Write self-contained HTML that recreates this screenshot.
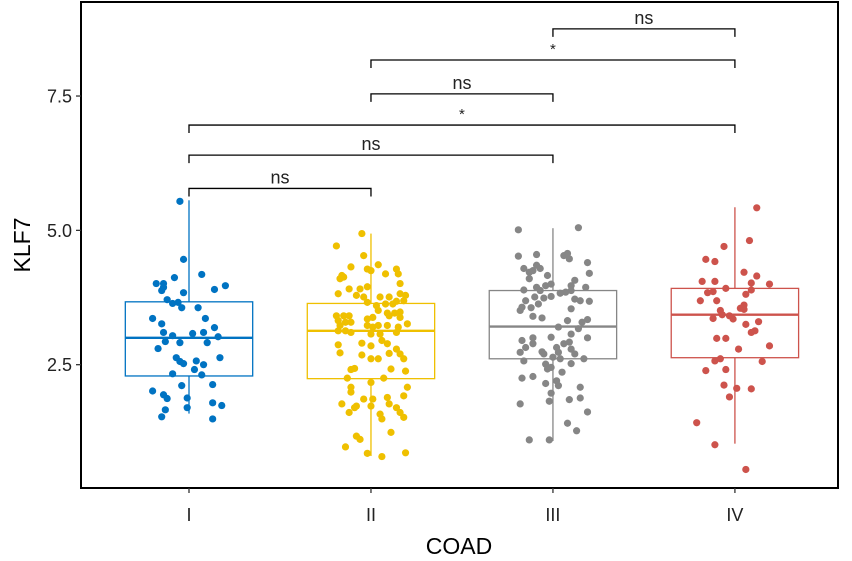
<!DOCTYPE html>
<html><head><meta charset="utf-8"><style>
html,body{margin:0;padding:0;background:#fff;}
svg{display:block;font-family:"Liberation Sans",Arial,sans-serif;}
</style></head><body>
<svg id="chart" width="852" height="561" viewBox="0 0 852 561"></svg>
<script>
const categories = ["I","II","III","IV"];
const colors = ["#0073C2","#EFC000","#868686","#CD534C"];
const yTicks = [2.5, 5.0, 7.5];
const yTickLabels = ["2.5","5.0","7.5"];
// box stats: [lowerWhisker, q1, median, q3, upperWhisker]
const boxI   = [1.59, 2.29, 3.00, 3.67, 5.56];
const boxII  = [0.80, 2.24, 3.13, 3.64, 4.94];
const boxIII = [1.08, 2.61, 3.21, 3.88, 5.04];
const boxIV  = [1.03, 2.63, 3.43, 3.92, 5.43];
const valuesI = [5.54,4.46,4.12,4.18,4.01,4.01,3.88,3.94,3.84,3.97,3.90,3.71,3.64,3.66,3.56,3.56,3.36,3.26,3.36,3.19,3.10,3.04,3.08,3.10,3.02,2.93,2.91,2.91,2.80,2.63,2.56,2.52,2.57,2.50,2.63,2.33,2.41,2.31,2.11,2.13,2.01,1.94,1.87,1.88,1.79,1.74,1.70,1.66,1.53,1.49];
const jitterI = [-0.05,-0.03,-0.08,0.07,-0.18,-0.14,-0.15,-0.14,-0.03,0.20,0.14,-0.12,-0.09,-0.06,-0.04,0.05,-0.20,-0.15,0.09,0.14,-0.14,-0.09,0.02,0.08,0.16,-0.13,-0.05,0.10,-0.17,-0.07,-0.05,-0.03,0.04,0.08,0.17,-0.09,0.03,0.07,-0.04,0.13,-0.20,-0.14,-0.12,-0.01,0.13,0.18,-0.01,-0.13,-0.15,0.13];
const valuesII = [4.94,4.71,4.53,4.32,4.16,4.13,4.10,4.28,4.25,4.36,4.19,4.28,4.19,4.01,3.91,3.91,3.95,3.82,3.79,3.76,3.76,3.76,3.82,3.79,3.66,3.60,3.63,3.63,3.68,3.69,3.51,3.46,3.46,3.48,3.41,3.41,3.41,3.32,3.29,3.23,3.29,3.35,3.38,3.41,3.38,3.26,3.13,3.13,3.10,3.23,3.20,3.23,3.23,3.20,3.07,3.07,3.10,2.95,2.90,2.85,2.89,2.87,2.72,2.68,2.61,2.61,2.71,2.79,2.70,2.61,2.43,2.41,2.42,2.38,2.25,2.17,2.25,2.08,2.08,1.99,1.92,1.86,1.86,1.89,1.77,1.70,1.73,1.73,1.77,1.70,1.61,1.58,1.49,1.61,1.52,1.17,1.11,1.24,0.97,0.85,0.79,0.86];
const jitterII = [-0.05,-0.19,-0.04,-0.11,-0.16,-0.15,-0.17,-0.02,0.00,0.04,0.08,0.14,0.15,0.16,-0.12,-0.06,-0.02,-0.18,-0.08,-0.04,0.05,0.10,0.16,0.19,-0.02,0.03,0.08,0.12,0.14,0.18,0.04,0.09,0.13,0.16,-0.19,-0.15,-0.12,-0.18,-0.14,-0.17,-0.11,-0.02,0.01,0.10,0.16,0.20,-0.18,-0.14,-0.11,-0.02,0.01,0.04,0.09,0.15,0.00,0.05,0.14,0.06,-0.05,0.00,0.09,-0.18,-0.17,-0.05,0.00,0.04,0.10,0.14,0.16,0.18,-0.09,-0.11,0.11,0.19,-0.13,0.00,0.07,0.20,-0.11,-0.11,0.18,-0.04,0.01,0.09,-0.16,-0.09,-0.08,0.00,0.10,0.14,-0.12,0.05,0.06,0.16,0.18,-0.08,-0.06,0.11,-0.14,-0.02,0.06,0.19];
const valuesIII = [5.01,5.05,4.52,4.55,4.53,4.57,4.47,4.40,4.29,4.22,4.35,4.29,4.25,4.16,4.20,4.10,4.07,3.94,3.97,4.00,3.97,3.94,3.89,3.88,3.83,3.85,3.88,3.69,3.76,3.74,3.77,3.72,3.69,3.68,3.57,3.56,3.51,3.63,3.54,3.40,3.37,3.32,3.34,3.20,3.17,3.29,3.07,2.95,3.00,3.01,3.00,2.82,2.89,2.82,2.89,2.92,2.73,2.74,2.73,2.79,2.57,2.70,2.64,2.61,2.70,2.61,2.51,2.52,2.42,2.45,2.25,2.28,2.36,2.15,2.20,2.11,2.08,1.97,1.82,1.77,1.85,1.88,1.62,1.41,1.27,1.10,1.10];
const jitterIII = [-0.19,0.14,-0.19,-0.09,0.06,0.08,0.09,0.19,-0.16,-0.13,-0.09,-0.07,-0.11,-0.03,0.20,-0.13,0.12,-0.09,-0.04,-0.01,0.10,0.18,-0.16,-0.07,0.04,0.07,0.10,-0.15,-0.10,-0.05,-0.01,0.12,0.15,0.20,-0.17,-0.12,-0.18,-0.08,0.10,-0.11,-0.06,0.08,0.19,0.03,0.14,0.16,0.10,-0.17,-0.11,-0.01,0.19,-0.15,-0.11,0.02,0.06,0.09,-0.18,-0.06,0.03,0.10,-0.16,-0.05,0.00,0.04,0.12,0.17,-0.04,0.10,-0.03,-0.01,-0.17,-0.11,0.05,-0.04,0.02,0.03,0.15,-0.01,-0.02,-0.18,0.09,0.15,0.19,0.08,0.13,-0.13,-0.02];
const valuesIV = [5.42,4.81,4.70,4.46,4.42,4.22,4.15,4.05,4.05,4.02,4.00,3.92,3.89,3.84,3.86,3.81,3.69,3.69,3.61,3.55,3.53,3.51,3.43,3.41,3.36,3.35,3.30,3.25,3.13,3.10,2.99,2.99,2.85,2.79,2.57,2.61,2.56,2.39,2.41,2.12,2.06,2.05,1.90,1.42,1.01,0.55];
const jitterIV = [0.12,0.08,-0.06,-0.16,-0.11,0.05,0.12,-0.18,-0.11,0.09,0.19,-0.05,0.09,-0.15,-0.12,0.06,-0.19,-0.10,0.05,0.03,0.05,-0.08,-0.07,-0.03,-0.12,-0.01,0.13,0.06,0.11,0.09,-0.10,-0.05,0.19,0.02,-0.11,-0.08,0.15,-0.16,-0.05,-0.06,0.01,0.09,-0.03,-0.21,-0.11,0.06];
// comparisons: [fromIndex, toIndex, yValue, label]
const compFrom = [0,0,0,1,1,2];
const compTo   = [1,2,3,2,3,3];
const compY    = [5.78,6.40,6.96,7.54,8.17,8.75];
const compLabel= ["ns","ns","*","ns","*","ns"];

const boxes=[boxI,boxII,boxIII,boxIV];
const vals=[valuesI,valuesII,valuesIII,valuesIV];
const jits=[jitterI,jitterII,jitterIII,jitterIV];

const L=81,R=838,T=2,B=488;
const yMin=0.205,yMax=9.25;
function ys(v){return B-(v-yMin)/(yMax-yMin)*(B-T);}
const band=(R-L)/4.16;
function xs(i){return 189+i*band;}

const svg=document.getElementById('chart');
const NS='http://www.w3.org/2000/svg';
function mk(tag,attrs,parent){const e=document.createElementNS(NS,tag);for(const k in attrs)e.setAttribute(k,attrs[k]);(parent||svg).appendChild(e);return e;}

const frame=mk('rect',{x:L,y:T,width:R-L,height:B-T,fill:'none',stroke:'#000','stroke-width':2});



yTicks.forEach((t,i)=>{
  const y=ys(t);
  const tk=mk('line',{x1:L-5,x2:L,y1:y,y2:y,stroke:'#333','stroke-width':1.3});
  
  
  const tx=mk('text',{x:L-9,y:y+6.5,'text-anchor':'end','font-size':18,fill:'#222'});
  tx.textContent=yTickLabels[i];
  
  
});
categories.forEach((c,i)=>{
  const x=xs(i);
  const tk=mk('line',{x1:x,x2:x,y1:B,y2:B+5,stroke:'#333','stroke-width':1.3});
  
  
  const tx=mk('text',{x:x,y:B+33,'text-anchor':'middle','font-size':18,fill:'#222'});
  tx.textContent=c;
  
  
});
const xt=mk('text',{x:459,y:554,'text-anchor':'middle','font-size':23,fill:'#000'});
xt.textContent='COAD';


const yt=mk('text',{x:0,y:0,'text-anchor':'middle','font-size':23,fill:'#000',transform:'translate(30,245) rotate(-90)'});
yt.textContent='KLF7';



const bw=band*0.7;
boxes.forEach((b,i)=>{
  const g=mk('g',{});
  
  
  const x=xs(i),c=colors[i];
  mk('line',{x1:x,x2:x,y1:ys(b[3]),y2:ys(b[4]),stroke:c,'stroke-width':1.3},g);
  mk('line',{x1:x,x2:x,y1:ys(b[0]),y2:ys(b[1]),stroke:c,'stroke-width':1.3},g);
  mk('rect',{x:x-bw/2,y:ys(b[3]),width:bw,height:ys(b[1])-ys(b[3]),fill:'#fff',stroke:c,'stroke-width':1.3},g);
  mk('line',{x1:x-bw/2,x2:x+bw/2,y1:ys(b[2]),y2:ys(b[2]),stroke:c,'stroke-width':2.4},g);
});
vals.forEach((arr,i)=>{
  const g=mk('g',{});
  
  
  arr.forEach((v,k)=>{
    const p=mk('circle',{cx:xs(i)+jits[i][k]*band,cy:ys(v),r:3.6,fill:colors[i]},g);
    
    
  });
});
compY.forEach((v,i)=>{
  const g=mk('g',{});
  
  
  const x1=xs(compFrom[i]),x2=xs(compTo[i]),y=ys(v);
  mk('path',{d:`M${x1},${y+8}V${y}H${x2}V${y+8}`,fill:'none',stroke:'#000','stroke-width':1.3},g);
  const star=compLabel[i]==='*';
  const t=mk('text',{x:(x1+x2)/2,y:star?y-6:y-5,'text-anchor':'middle','font-size':star?15:18,fill:'#222'},g);
  t.textContent=compLabel[i];
  
  
});
</script>
</body></html>
